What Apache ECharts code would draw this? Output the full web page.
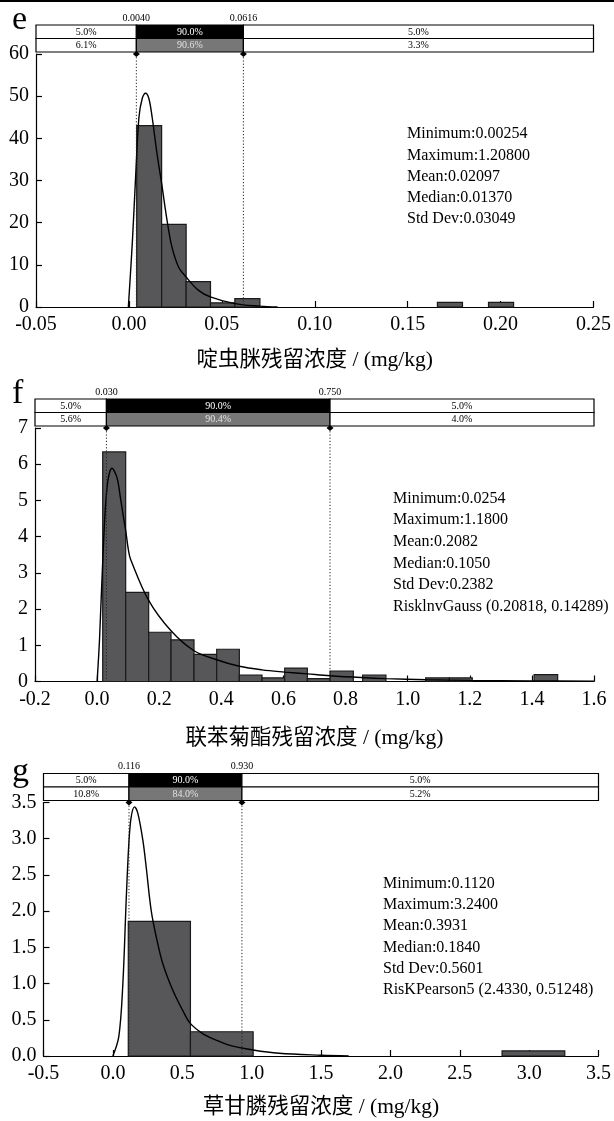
<!DOCTYPE html>
<html>
<head>
<meta charset="utf-8">
<script src="https://cdn.jsdelivr.net/npm/echarts@6/dist/echarts.min.js"></script>
<style>
html, body { margin: 0; padding: 0; background: #fff; }
#chart { width: 614px; height: 1121px; }
</style>
</head>
<body>
<div id="chart"></div>
<script>
// ---- panel e: 啶虫脒 ----
var eBinLo = [0.0042, 0.0176, 0.0308, 0.0439, 0.0570, 0.1660, 0.1935];
var eBinHi = [0.0176, 0.0308, 0.0439, 0.0570, 0.0705, 0.1795, 0.2070];
var eFreq  = [43, 19.6, 6.0, 1.0, 2.0, 1.1, 1.1];
var eFitX = [-0.0003, 0.0019, 0.0037, 0.0054, 0.0072, 0.0090, 0.0107, 0.0125, 0.0151, 0.0176, 0.0205, 0.0231, 0.0267, 0.0308, 0.0373, 0.0438, 0.0570, 0.0704, 0.0800];
var eFitY = [0, 15.8, 31.7, 45.0, 49.5, 50.7, 49.5, 45.0, 36.4, 29.3, 20.6, 14.3, 9.5, 7.1, 4.0, 2.4, 0.8, 0.2, 0];
var eCuts = [0.0040, 0.0616];
var eCutLabels = ['0.0040', '0.0616'];
var eRows = [['5.0%', '90.0%', '5.0%'], ['6.1%', '90.6%', '3.3%']];
var eStats = ['Minimum:0.00254', 'Maximum:1.20800', 'Mean:0.02097', 'Median:0.01370', 'Std Dev:0.03049'];
var eTitle = '啶虫脒残留浓度 / (mg/kg)';

// ---- panel f: 联苯菊酯 ----
var fBinLo = [0.018, 0.092, 0.166, 0.238, 0.312, 0.385, 0.458, 0.531, 0.604, 0.677, 0.750, 0.855, 1.058, 1.134, 1.407];
var fBinHi = [0.092, 0.166, 0.238, 0.312, 0.385, 0.458, 0.531, 0.604, 0.677, 0.750, 0.825, 0.930, 1.134, 1.208, 1.483];
var fFreq  = [6.34, 2.46, 1.36, 1.15, 0.75, 0.89, 0.18, 0.10, 0.37, 0.08, 0.29, 0.18, 0.10, 0.10, 0.19];
var fFitX = [0, 0.008, 0.019, 0.032, 0.048, 0.064, 0.075, 0.085, 0.092, 0.101, 0.108, 0.166, 0.238, 0.312, 0.385, 0.458, 0.531, 0.604, 0.677, 0.750, 0.850, 0.930, 1.060, 1.200, 1.400, 1.600];
var fFitY = [0, 1.2, 3.5, 5.36, 5.89, 5.63, 5.08, 4.53, 4.17, 3.62, 3.37, 2.24, 1.40, 0.85, 0.60, 0.42, 0.32, 0.26, 0.21, 0.16, 0.11, 0.08, 0.05, 0.03, 0.015, 0.01];
var fCuts = [0.030, 0.750];
var fCutLabels = ['0.030', '0.750'];
var fRows = [['5.0%', '90.0%', '5.0%'], ['5.6%', '90.4%', '4.0%']];
var fStats = ['Minimum:0.0254', 'Maximum:1.1800', 'Mean:0.2082', 'Median:0.1050', 'Std Dev:0.2382', 'RisklnvGauss (0.20818, 0.14289)'];
var fTitle = '联苯菊酯残留浓度 / (mg/kg)';

// ---- panel g: 草甘膦 ----
var gBinLo = [0.111, 0.559, 2.805];
var gBinHi = [0.559, 1.011, 3.257];
var gFreq  = [1.86, 0.335, 0.07];
var gFitX = [0, 0.043, 0.072, 0.096, 0.115, 0.132, 0.156, 0.180, 0.216, 0.240, 0.276, 0.312, 0.359, 0.431, 0.503, 0.558, 0.647, 0.743, 0.838, 1.011, 1.198, 1.500, 1.700];
var gFitY = [0, 0.27, 1.0, 2.15, 2.93, 3.30, 3.44, 3.35, 2.98, 2.61, 2.01, 1.65, 1.28, 0.91, 0.63, 0.45, 0.31, 0.22, 0.15, 0.083, 0.037, 0.01, 0];
var gCuts = [0.116, 0.930];
var gCutLabels = ['0.116', '0.930'];
var gRows = [['5.0%', '90.0%', '5.0%'], ['10.8%', '84.0%', '5.2%']];
var gStats = ['Minimum:0.1120', 'Maximum:3.2400', 'Mean:0.3931', 'Median:0.1840', 'Std Dev:0.5601', 'RisKPearson5 (2.4330, 0.51248)'];
var gTitle = '草甘膦残留浓度 / (mg/kg)';

var SERIF = '"Liberation Serif", "Times New Roman", serif';
var CJK = '"Liberation Serif", "Noto Sans CJK SC", serif';

var panels = [
  { lo: eBinLo, hi: eBinHi, freq: eFreq, fx: eFitX, fy: eFitY, cuts: eCuts, cutLabels: eCutLabels, rows: eRows,
    stats: eStats, title: eTitle, letter: 'e',
    xmin: -0.05, xmax: 0.25, xint: 0.05, xdec: 2, ymax: 60, yint: 10, ydec: 0,
    grid: { left: 36, right: 16, top: 54, height: 253 }, nameGap: 43,
    statX: 407, statY: 134, statGap: 21.3, letterY: 37 },
  { lo: fBinLo, hi: fBinHi, freq: fFreq, fx: fFitX, fy: fFitY, cuts: fCuts, cutLabels: fCutLabels, rows: fRows,
    stats: fStats, title: fTitle, letter: 'f',
    xmin: -0.2, xmax: 1.6, xint: 0.2, xdec: 1, ymax: 7, yint: 1, ydec: 0,
    grid: { left: 35, right: 20, top: 428, height: 253.5 }, nameGap: 46,
    statX: 393, statY: 498.5, statGap: 21.6, letterY: 411 },
  { lo: gBinLo, hi: gBinHi, freq: gFreq, fx: gFitX, fy: gFitY, cuts: gCuts, cutLabels: gCutLabels, rows: gRows,
    stats: gStats, title: gTitle, letter: 'g',
    xmin: -0.5, xmax: 3.5, xint: 0.5, xdec: 1, ymax: 3.5, yint: 0.5, ydec: 1,
    grid: { left: 43.5, right: 13, top: 802.5, height: 253.5 }, nameGap: 41,
    statX: 383, statY: 883.5, statGap: 21.3, letterY: 789 }
];

var grids = [], xAxes = [], yAxes = [], series = [], graphics = [];

graphics.push({ type: 'line', shape: { x1: 0, y1: 1, x2: 614, y2: 1 }, style: { stroke: '#000', lineWidth: 2 } });

panels.forEach(function (p, gi) {
  grids.push(p.grid);
  xAxes.push({
    gridIndex: gi, type: 'value', min: p.xmin, max: p.xmax, interval: p.xint,
    axisLine: { onZero: false, lineStyle: { color: '#000', width: 1.2 } },
    axisTick: { inside: true, length: 6, lineStyle: { color: '#000', width: 1.2 } },
    axisLabel: { color: '#000', fontFamily: SERIF, fontSize: 20, margin: 8,
      formatter: (function (d) { return function (v) { return v.toFixed(d); }; })(p.xdec) },
    splitLine: { show: false },
    name: p.title, nameLocation: 'middle', nameGap: p.nameGap,
    nameTextStyle: { color: '#000', fontFamily: CJK, fontSize: 21.5 }
  });
  yAxes.push({
    gridIndex: gi, type: 'value', min: 0, max: p.ymax, interval: p.yint,
    axisLine: { show: true, onZero: false, lineStyle: { color: '#000', width: 1.2 } },
    axisTick: { show: true, inside: true, length: 6, lineStyle: { color: '#000', width: 1.2 } },
    axisLabel: { color: '#000', fontFamily: SERIF, fontSize: 20, margin: 7,
      formatter: (function (d) { return function (v) { return v.toFixed(d); }; })(p.ydec) },
    splitLine: { show: false }
  });

  // histogram bars
  var barData = p.lo.map(function (v, i) { return [v, p.hi[i], p.freq[i]]; });
  series.push({
    type: 'custom', xAxisIndex: gi, yAxisIndex: gi, data: barData, z: 2,
    encode: { x: [0, 1], y: 2 },
    renderItem: function (params, api) {
      var a = api.coord([api.value(0), api.value(2)]);
      var b = api.coord([api.value(1), 0]);
      return { type: 'rect', shape: { x: a[0], y: a[1], width: b[0] - a[0], height: b[1] - a[1] },
        style: { fill: '#57575a', stroke: '#1a1a1a', lineWidth: 1.2 } };
    }
  });

  // fitted curve
  series.push({
    type: 'line', xAxisIndex: gi, yAxisIndex: gi, z: 4,
    data: p.fx.map(function (v, i) { return [v, p.fy[i]]; }),
    smooth: 0.35, showSymbol: false, symbol: 'none',
    lineStyle: { color: '#000', width: 1.4 }
  });

  // cut lines with diamonds and labels
  series.push({
    type: 'custom', xAxisIndex: gi, yAxisIndex: gi, clip: false, z: 5,
    data: p.cuts.map(function (v, i) { return [v, i]; }),
    encode: { x: 0, y: 1 },
    renderItem: function (params, api) {
      var v = api.value(0);
      var t = api.coord([v, p.ymax]);
      var b = api.coord([v, 0]);
      return { type: 'group', children: [
        { type: 'line', shape: { x1: t[0], y1: t[1], x2: b[0], y2: b[1] },
          style: { stroke: '#222', lineWidth: 1, lineDash: [1.2, 2] } },
        { type: 'polygon', shape: { points: [[t[0], t[1] - 3], [t[0] + 3.5, t[1]], [t[0], t[1] + 3], [t[0] - 3.5, t[1]]] },
          style: { fill: '#000' } },
        { type: 'text', x: t[0], y: t[1] - 36,
          style: { text: p.cutLabels[api.value(1)], align: 'center', verticalAlign: 'middle',
            fontFamily: SERIF, fontSize: 10, fill: '#000' } }
      ] };
    }
  });

  // percentage bands above plot
  var edges = [p.xmin, p.cuts[0], p.cuts[1], p.xmax];
  var bandData = [];
  for (var r = 0; r < 2; r++) for (var k = 0; k < 3; k++) bandData.push([edges[k], edges[k + 1], r, k]);
  series.push({
    type: 'custom', xAxisIndex: gi, yAxisIndex: gi, clip: false, z: 6,
    data: bandData, encode: { x: [0, 1], y: 2 },
    renderItem: function (params, api) {
      var a = api.coord([api.value(0), p.ymax]);
      var b = api.coord([api.value(1), p.ymax]);
      var ri = api.value(2), k = api.value(3);
      var y = a[1] - 29 + ri * 13.5;
      var fill = k === 1 ? (ri === 0 ? '#000' : '#777') : '#fff';
      var tc = k === 1 ? (ri === 0 ? '#fff' : '#e2e2e2') : '#000';
      return { type: 'group', children: [
        { type: 'rect', shape: { x: a[0], y: y, width: b[0] - a[0], height: 13.5 },
          style: { fill: fill, stroke: '#000', lineWidth: 1.2 } },
        { type: 'text', x: (a[0] + b[0]) / 2, y: y + 7,
          style: { text: p.rows[ri][k], align: 'center', verticalAlign: 'middle',
            fontFamily: SERIF, fontSize: 10, fill: tc } }
      ] };
    }
  });

  // statistics text
  p.stats.forEach(function (s, i) {
    graphics.push({ type: 'text', x: p.statX, y: p.statY + i * p.statGap,
      style: { text: s, fontFamily: SERIF, fontSize: 16, fill: '#000', verticalAlign: 'middle' } });
  });
  graphics.push({ type: 'text', x: 12, y: p.letterY,
    style: { text: p.letter, fontFamily: SERIF, fontSize: 34, fill: '#000', verticalAlign: 'bottom' } });
});

var chart = echarts.init(document.getElementById('chart'), null, { renderer: 'canvas' });
chart.setOption({
  backgroundColor: '#fff',
  animation: false,
  grid: grids,
  xAxis: xAxes,
  yAxis: yAxes,
  series: series,
  graphic: graphics
});
</script>
</body>
</html>
